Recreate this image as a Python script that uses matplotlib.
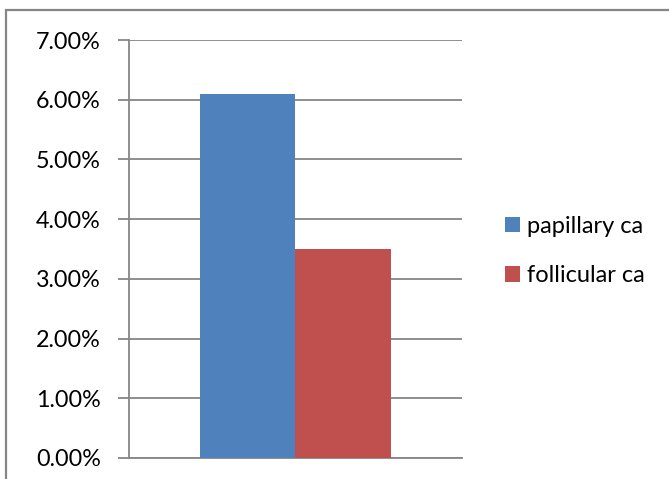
import matplotlib.pyplot as plt
from matplotlib.patches import Rectangle, Patch
from matplotlib.ticker import FuncFormatter

# Share of cases by carcinoma type
categories = ['papillary ca', 'follicular ca']
shares = [6.10, 3.50]
colors = ['#4F81BD', '#C0504D']
y_ticks = [0, 1, 2, 3, 4, 5, 6, 7]

W, H = 669, 479
fig = plt.figure(figsize=(W / 100, H / 100), dpi=100)
plt.rcParams['font.family'] = ['Lato', 'DejaVu Sans']

# Chart frame, running off the right and bottom edges
fig.patches.append(Rectangle((6 / W, -0.1), 1.2, 1 - 10 / H + 0.1,
                             transform=fig.transFigure, fill=False,
                             edgecolor='#868686', linewidth=1.6))

ax = fig.add_axes([128.7 / W, 1 - 458 / H, (462 - 128.7) / W, (458 - 40) / H])

bar_w = 0.2857
for i, (name, val) in enumerate(zip(categories, shares)):
    ax.bar((i - 0.5) * bar_w, val, width=bar_w, color=colors[i], label=name,
           zorder=3)

ax.set_xlim(-0.5, 0.5)
ax.set_ylim(0, 7)
ax.set_yticks(y_ticks)
ax.yaxis.set_major_formatter(FuncFormatter(lambda v, p: '%.2f%%' % v))
ax.set_xticks([])
ax.grid(axis='y', color='#868686', linewidth=1.3, zorder=0)
for s in ['top', 'right']:
    ax.spines[s].set_visible(False)
for s in ['left', 'bottom']:
    ax.spines[s].set_color('#868686')
    ax.spines[s].set_linewidth(1.3)
ax.tick_params(axis='y', length=8, width=1.3, color='#868686',
               labelsize=16.8, pad=12, labelcolor='black')

handles = [Patch(facecolor=c, edgecolor='none') for c in colors]
fig.legend(handles, categories, loc='center left',
           bbox_to_anchor=(488 / W, 1 - 251 / H), frameon=False,
           fontsize=17, handlelength=0.65, handleheight=0.65,
           handletextpad=0.3, labelspacing=1.2, borderpad=0.2)

fig.savefig('out.png', dpi=100)
